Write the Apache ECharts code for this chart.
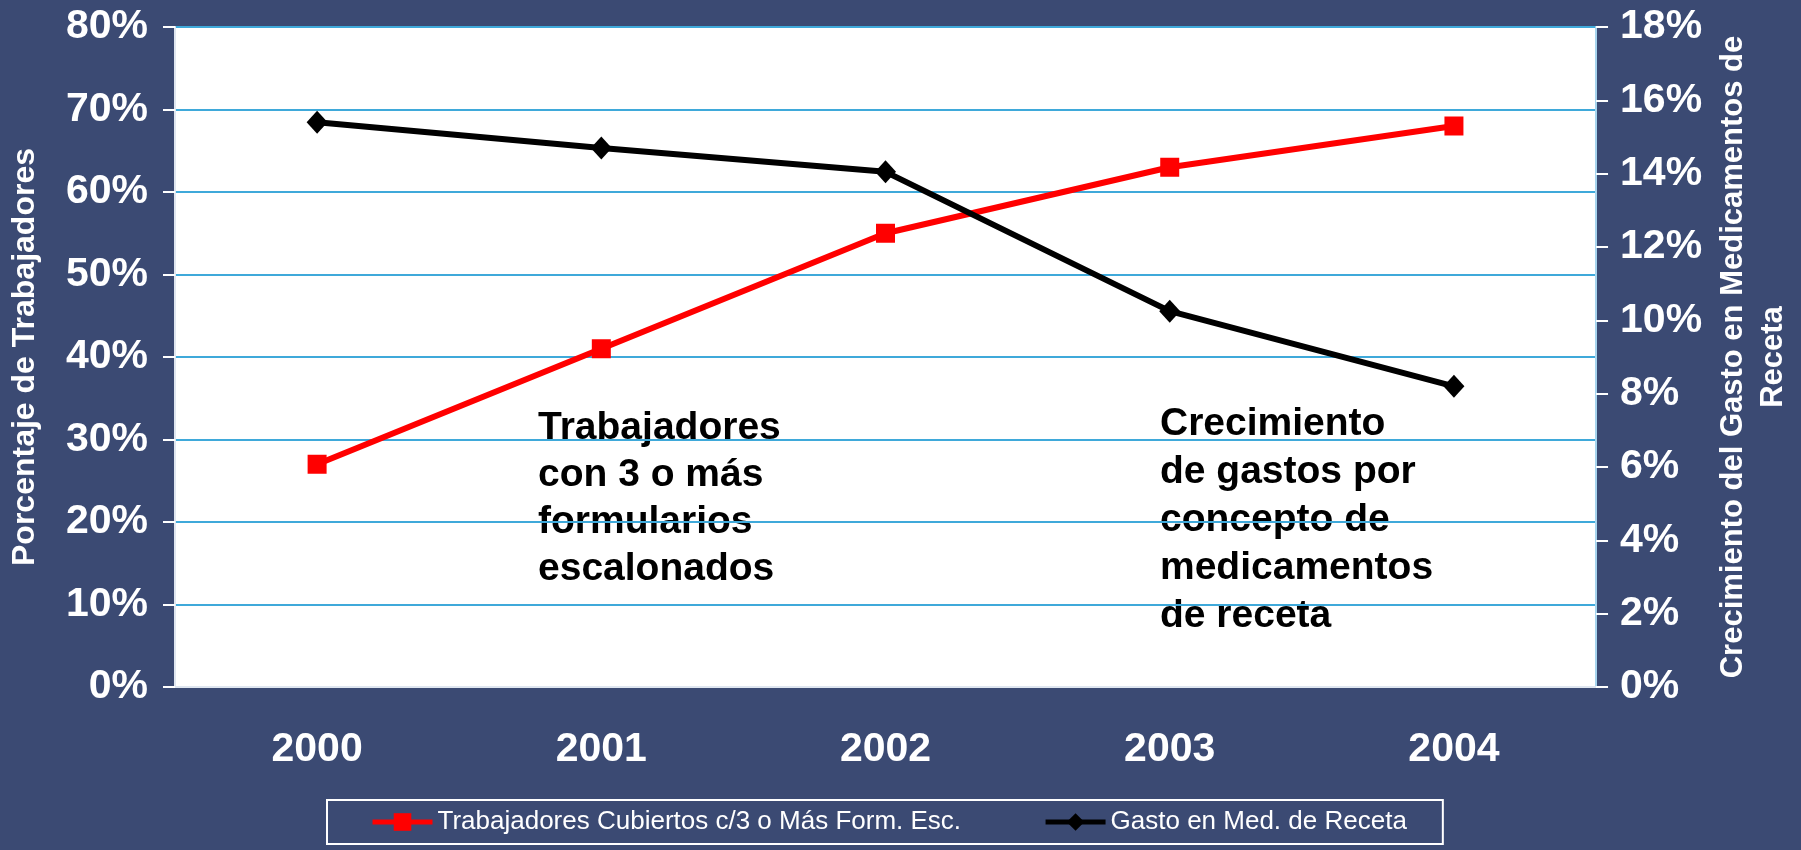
<!DOCTYPE html>
<html>
<head>
<meta charset="utf-8">
<script src="https://cdn.jsdelivr.net/npm/echarts@6/dist/echarts.min.js"></script>
<style>
  html, body { margin: 0; padding: 0; background: #3b4a73; }
  #chart { width: 1801px; height: 850px; }
</style>
</head>
<body>
<div id="chart"></div>
<script>
const years = ['2000', '2001', '2002', '2003', '2004']
// % de trabajadores con 3 o más formularios escalonados (eje izquierdo)
const trabajadores = [27, 41, 55, 63, 68]
// crecimiento del gasto en medicamentos de receta, % (eje derecho)
const gasto = [15.4, 14.7, 14.05, 10.25, 8.2]

const leftTicks = { min: 0, max: 80, interval: 10 }
const rightTicks = { min: 0, max: 18, interval: 2 }

const bg = '#3b4a73'
const font = 'Liberation Sans, Arial, sans-serif'

const chart = echarts.init(document.getElementById('chart'))

chart.setOption({
  backgroundColor: bg,
  animation: false,
  grid: {
    left: 175,
    right: 196,
    top: 27,
    bottom: 163,
    show: true,
    backgroundColor: '#ffffff',
    borderWidth: 0
  },
  legend: {
    left: 327,
    top: 800,
    padding: [9, 36, 9, 43],
    borderColor: '#ffffff',
    borderWidth: 2,
    itemWidth: 60,
    itemHeight: 22,
    itemGap: 82,
    lineStyle: { width: 5 },
    textStyle: {
      color: '#ffffff',
      fontFamily: font,
      fontSize: 26
    },
    data: ['Trabajadores Cubiertos c/3 o Más Form. Esc.', 'Gasto en Med. de Receta']
  },
  xAxis: {
    type: 'category',
    data: years,
    boundaryGap: true,
    axisLine: { lineStyle: { color: '#dfe6f0', width: 2 } },
    axisTick: { length: 12, lineStyle: { color: '#ffffff', width: 2 } },
    axisLabel: {
      color: '#ffffff',
      fontFamily: font,
      fontWeight: 'bold',
      fontSize: 41,
      margin: 42
    },
    splitLine: { show: false }
  },
  yAxis: [{
    type: 'value',
    position: 'left',
    min: leftTicks.min,
    max: leftTicks.max,
    interval: leftTicks.interval,
    name: 'Porcentaje de Trabajadores',
    nameLocation: 'middle',
    nameGap: 134,
    nameTextStyle: {
      color: '#ffffff',
      fontFamily: font,
      fontWeight: 'bold',
      fontSize: 32
    },
    axisLine: { show: true, lineStyle: { color: '#dfe6f0', width: 2 } },
    axisTick: { show: true, length: 12, lineStyle: { color: '#ffffff', width: 2 } },
    axisLabel: {
      color: '#ffffff',
      fontFamily: font,
      fontWeight: 'bold',
      fontSize: 41,
      margin: 27,
      formatter: '{value}%'
    },
    splitLine: { show: true, lineStyle: { color: '#3fa9da', width: 2 } }
  }, {
    type: 'value',
    position: 'right',
    min: rightTicks.min,
    max: rightTicks.max,
    interval: rightTicks.interval,
    name: 'Crecimiento del Gasto en Medicamentos de\nReceta',
    nameLocation: 'middle',
    nameGap: 112,
    nameTextStyle: {
      color: '#ffffff',
      fontFamily: font,
      fontWeight: 'bold',
      fontSize: 31,
      lineHeight: 40
    },
    axisLine: { show: true, lineStyle: { color: '#a6d4ee', width: 2 } },
    axisTick: { show: true, length: 12, lineStyle: { color: '#ffffff', width: 2 } },
    axisLabel: {
      color: '#ffffff',
      fontFamily: font,
      fontWeight: 'bold',
      fontSize: 41,
      margin: 24,
      formatter: '{value}%'
    },
    splitLine: { show: false }
  }],
  series: [{
    name: 'Trabajadores Cubiertos c/3 o Más Form. Esc.',
    type: 'line',
    yAxisIndex: 0,
    data: trabajadores,
    symbol: 'rect',
    symbolSize: 19,
    lineStyle: { color: '#ff0000', width: 6 },
    itemStyle: { color: '#ff0000' }
  }, {
    name: 'Gasto en Med. de Receta',
    type: 'line',
    yAxisIndex: 1,
    data: gasto,
    symbol: 'diamond',
    symbolSize: [21, 23],
    lineStyle: { color: '#000000', width: 6 },
    itemStyle: { color: '#000000' }
  }],
  graphic: [{
    type: 'text',
    left: 538,
    top: 405,
    silent: true,
    style: {
      text: 'Trabajadores\ncon 3 o más\nformularios\nescalonados',
      fill: '#000000',
      font: 'bold 39px ' + font,
      lineHeight: 47
    }
  }, {
    type: 'text',
    left: 1160,
    top: 400,
    silent: true,
    style: {
      text: 'Crecimiento\nde gastos por\nconcepto de\nmedicamentos\nde receta',
      fill: '#000000',
      font: 'bold 39px ' + font,
      lineHeight: 48
    }
  }]
})
</script>
</body>
</html>
